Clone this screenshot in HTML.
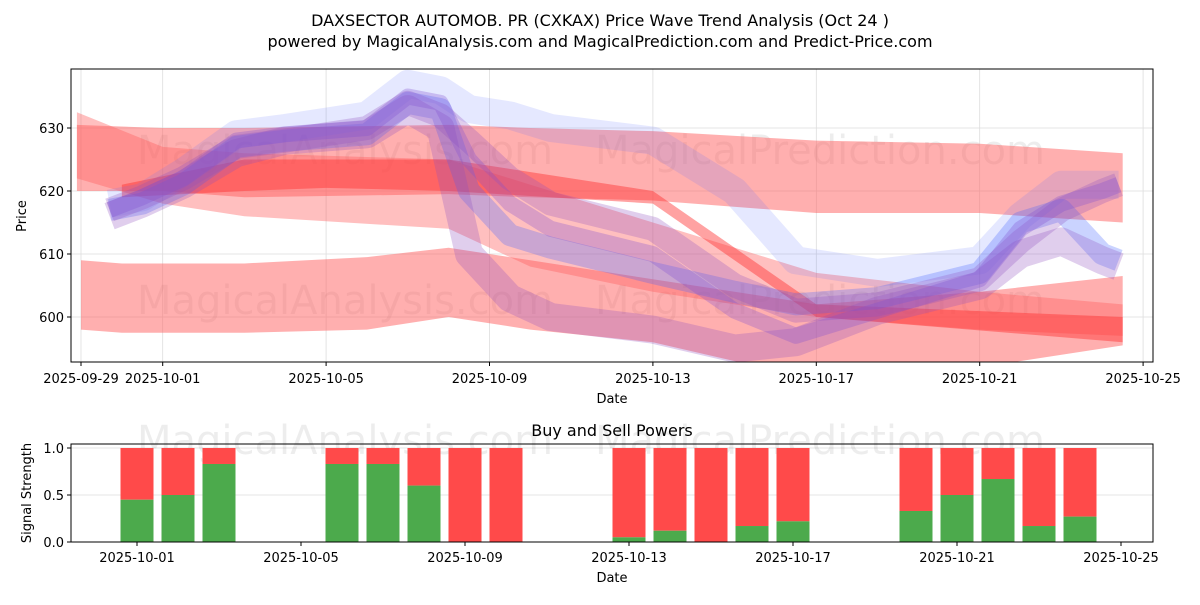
<!DOCTYPE html>
<html><head><meta charset="utf-8"><style>
body{margin:0;background:#fff;font-family:"Liberation Sans","DejaVu Sans",sans-serif}
svg text{font-family:"DejaVu Sans","Liberation Sans",sans-serif}
</style></head><body>
<svg id="c" width="1200" height="600" xmlns="http://www.w3.org/2000/svg">
<text x="600" y="26" text-anchor="middle" font-size="16">DAXSECTOR AUTOMOB. PR (CXKAX) Price Wave Trend Analysis (Oct 24 )</text>
<text x="600" y="47" text-anchor="middle" font-size="16">powered by MagicalAnalysis.com and MagicalPrediction.com and Predict-Price.com</text>
<defs><clipPath id="mclip"><rect x="71" y="69" width="1082" height="293"/></clipPath></defs>
<g id="main" clip-path="url(#mclip)"></g>
<g id="mainAxes"></g>
<g id="sub"></g>
</svg>
<script>
const NS="http://www.w3.org/2000/svg";
// main chart data
const yTicks=[600,610,620,630];
const xTickLabels=["2025-09-29","2025-10-01","2025-10-05","2025-10-09","2025-10-13","2025-10-17","2025-10-21","2025-10-25"];
const xTickDays=[0,2,6,10,14,18,22,26];
const bandADays=[-0.1,2,4,9,11,14,18,22,25.5];
const bandAUpper=[630.5,630,630,630.5,630,629.5,628,627.5,626];
const bandALower=[620,620,619,619.5,619,618.5,616.5,616.5,615];
const bandBDays=[0,1,2,4,7,9,11,14,18,22,25.5];
const bandBUpper=[609,608.5,608.5,608.5,609.5,611,609,606,602,604,606.5];
const bandBLower=[598,597.5,597.5,597.5,598,600,598,596,590,592,595.5];
const bandCDays=[-0.1,2,4,9,11,14,18,22,25.5];
const bandCUpper=[632.5,627,626,625,621,615,607,604,602];
const bandCLower=[622,618,616,614,608,604,600,598,597];
const bandDDays=[1,4,6,9,14,18,25.5];
const bandDUpper=[621,625,625,625,620,602,600];
const bandDLower=[619,620,620.5,620,618,600,596];
const lineDays=[0.7,1.5,2.5,3.8,5,7,8,8.8,9.5,10.5,11.5,14,16,17.5,19.5,22,23,24,25,25.4];
const line1=[617,618,621,627,628,629,634,633,620,613,611,607,604,602,603,607,615,617,610,609];
const line2=[617,619,622,628,629,630,635,634,625,618,614,610,601,597,601,606,614,618,620,621];
const line3=[618,619,623,629,630,632,637,636,633,632,630,628,620,609,607,609,616,621,621,621];
const line4=[616,618,621,626,628,629,633,630,610,603,600,598,595,596,601,605,610,612,609,608];
const line5=[617,619,622,627,628,630,634,632,628,622,618,614,605,601,602,606,612,617,620,621];
// sub chart data
const barDays=[2,3,4,7,8,9,10,11,14,15,16,17,18,21,22,23,24,25];
const buyVals=[0.45,0.5,0.83,0.83,0.83,0.6,0,0,0.05,0.12,0,0.17,0.22,0.33,0.5,0.67,0.17,0.27];
const subYTicks=[0,0.5,1];
const subXLabels=["2025-10-01","2025-10-05","2025-10-09","2025-10-13","2025-10-17","2025-10-21","2025-10-25"];
const subXDays=[2,6,10,14,18,22,26];

const X=d=>81+d*40.85, Y=v=>128+(630-v)*6.3;
const SX=d=>137+(d-2)*41, SY=v=>542-v*94;
function el(t,a,p){const e=document.createElementNS(NS,t);for(const k in a)e.setAttribute(k,a[k]);p.appendChild(e);return e;}
const main=document.getElementById('main'),ax=document.getElementById('mainAxes'),sub=document.getElementById('sub');
yTicks.forEach(v=>{const g=el('line',{x1:71,x2:1153,y1:Y(v),y2:Y(v),stroke:'#ddd','stroke-width':0.8},main);
});
xTickDays.forEach(d=>{const g=el('line',{x1:X(d),x2:X(d),y1:69,y2:362,stroke:'#ddd','stroke-width':0.8},main);
});
[[345,150],[820,150],[345,300],[820,300]].forEach((p,i)=>{const t=el('text',{x:p[0],y:p[1]+14,'text-anchor':'middle','font-size':40,fill:'#000','fill-opacity':0.07},main);
t.textContent=i%2?'MagicalPrediction.com':'MagicalAnalysis.com';
});
function band(days,up,lo,color,op,name){let pts=days.map((d,i)=>X(d)+','+Y(up[i]));
for(let i=days.length-1;i>=0;i--)pts.push(X(days[i])+','+Y(lo[i]));
const p=el('polygon',{points:pts.join(' '),fill:color,'fill-opacity':op},main);
}
band(bandADays,bandAUpper,bandALower,'#ff6060',0.5,'upper-red-band');
band(bandBDays,bandBUpper,bandBLower,'#ff6060',0.5,'lower-red-band');
band(bandCDays,bandCUpper,bandCLower,'#ff6060',0.4,'diagonal-red-band');
band(bandDDays,bandDUpper,bandDLower,'#ff3030',0.45,'narrow-red-band');
function line(vals,color,w,op,name){const p=el('polyline',{points:lineDays.map((d,i)=>X(d)+','+Y(vals[i])).join(' '),fill:'none',stroke:color,'stroke-width':w,'stroke-opacity':op,'stroke-linejoin':'round'},main);
}
line(line3,'#6070ff',28,0.16,'wave-line-upper');
line(line1,'#4060ff',22,0.28,'wave-line-blue');
line(line4,'#9050c0',28,0.28,'wave-line-lower');
line(line5,'#9050c0',24,0.28,'wave-line-mid');
line(line2,'#8050d0',16,0.3,'wave-line-purple');
el('rect',{x:71,y:69,width:1082,height:293,fill:'none',stroke:'#000','stroke-width':1},ax);
yTicks.forEach(v=>{el('line',{x1:67,x2:71,y1:Y(v),y2:Y(v),stroke:'#000'},ax);
const t=el('text',{x:64,y:Y(v)+5,'text-anchor':'end','font-size':13},ax);t.textContent=v;
});
xTickDays.forEach((d,i)=>{el('line',{x1:X(d),x2:X(d),y1:362,y2:366,stroke:'#000'},ax);
const t=el('text',{x:X(d),y:383,'text-anchor':'middle','font-size':13},ax);t.textContent=xTickLabels[i];
});
let t=el('text',{x:612,y:403,'text-anchor':'middle','font-size':13},ax);t.textContent='Date';

t=el('text',{x:0,y:0,'text-anchor':'middle','font-size':13,transform:'translate(26,216) rotate(-90)'},ax);t.textContent='Price';

t=el('text',{x:612,y:436,'text-anchor':'middle','font-size':16},sub);t.textContent='Buy and Sell Powers';

subYTicks.forEach(v=>{const g=el('line',{x1:71,x2:1153,y1:SY(v),y2:SY(v),stroke:'#e4e4e4'},sub);
});
[[345,440],[820,440]].forEach((p,i)=>{const w=el('text',{x:p[0],y:p[1]+14,'text-anchor':'middle','font-size':40,fill:'#000','fill-opacity':0.07},sub);
w.textContent=i?'MagicalPrediction.com':'MagicalAnalysis.com';
});
barDays.forEach((d,i)=>{const x=SX(d)-16.5;
const r=el('rect',{x:x,y:SY(1),width:33,height:SY(buyVals[i])-SY(1),fill:'#ff4a4a'},sub);

const g=el('rect',{x:x,y:SY(buyVals[i]),width:33,height:SY(0)-SY(buyVals[i]),fill:'#4caa4c'},sub);
});
el('rect',{x:71,y:444,width:1082,height:98,fill:'none',stroke:'#000'},sub);
subYTicks.forEach(v=>{el('line',{x1:67,x2:71,y1:SY(v),y2:SY(v),stroke:'#000'},sub);
const s=el('text',{x:64,y:SY(v)+5,'text-anchor':'end','font-size':13},sub);s.textContent=v.toFixed(1);
});
subXDays.forEach((d,i)=>{el('line',{x1:SX(d),x2:SX(d),y1:542,y2:546,stroke:'#000'},sub);
const s=el('text',{x:SX(d),y:562,'text-anchor':'middle','font-size':13},sub);s.textContent=subXLabels[i];
});
t=el('text',{x:612,y:582,'text-anchor':'middle','font-size':13},sub);t.textContent='Date';

t=el('text',{x:0,y:0,'text-anchor':'middle','font-size':13,transform:'translate(31,493) rotate(-90)'},sub);t.textContent='Signal Strength';

</script>
</body></html>
